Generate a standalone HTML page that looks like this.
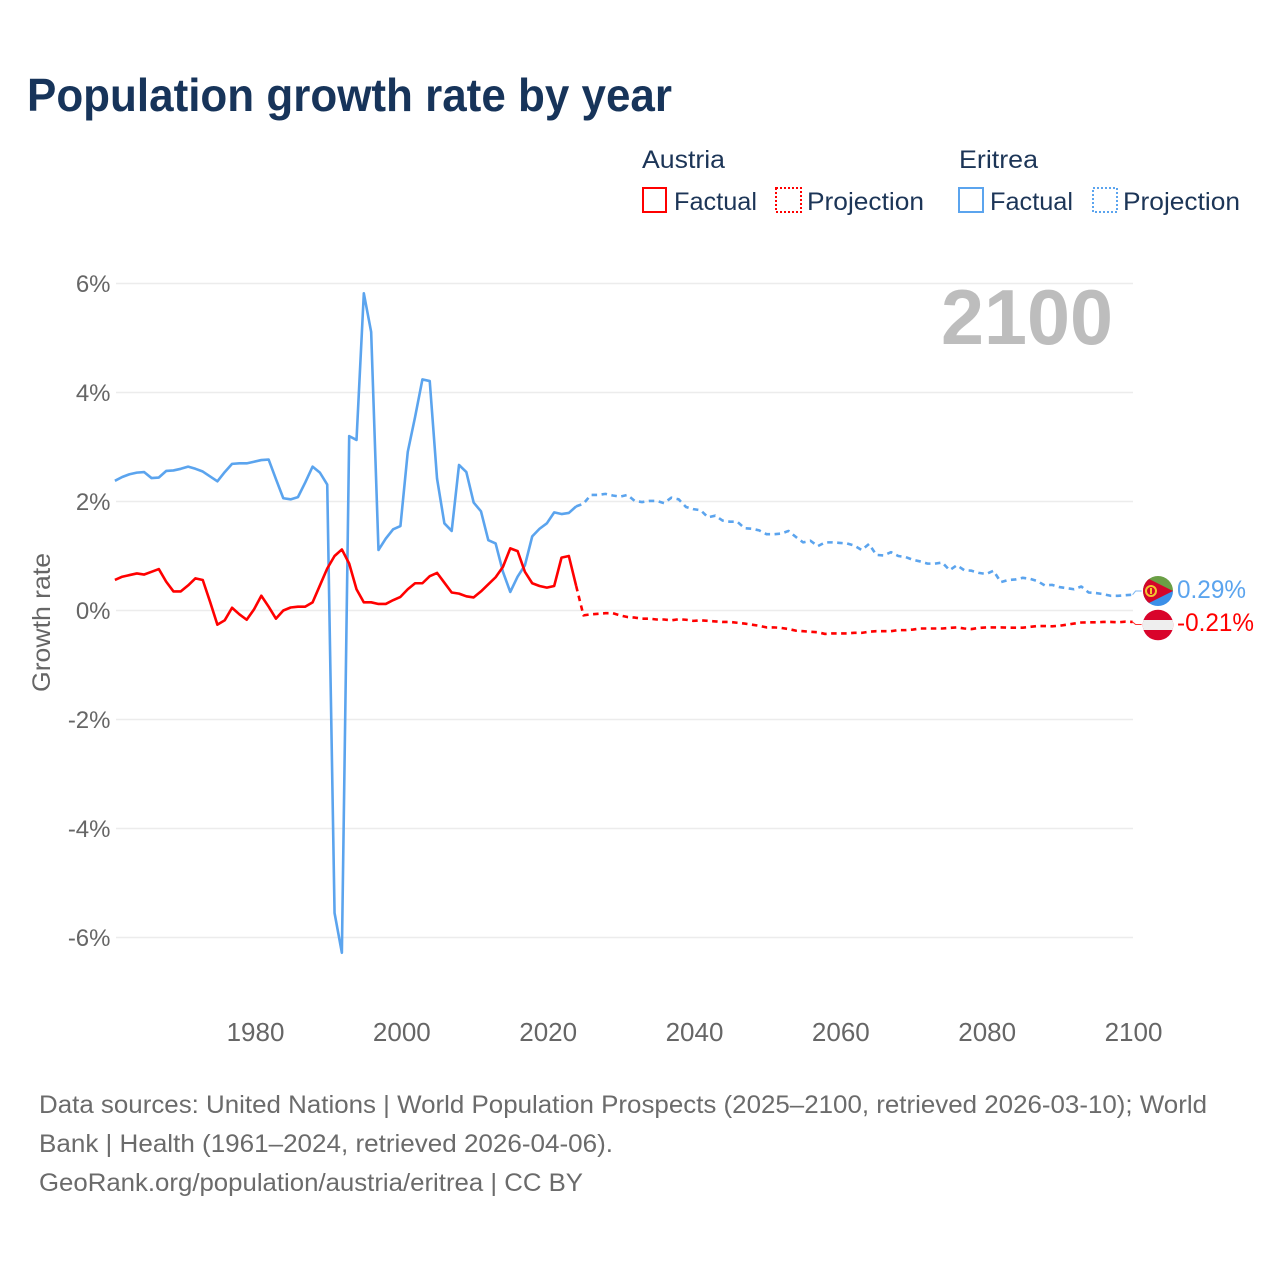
<!DOCTYPE html>
<html lang="en">
<head>
<meta charset="utf-8">
<title>Population growth rate by year</title>
<style>
html,body{margin:0;padding:0;background:#fff;}
svg{display:block;font-family:"Liberation Sans",sans-serif;}
</style>
</head>
<body>
<svg id="chart" xmlns="http://www.w3.org/2000/svg" width="1280" height="1280" viewBox="0 0 1280 1280">
  <rect width="1280" height="1280" fill="#fff"/>
  <text x="27" y="111" font-size="46" font-weight="700" fill="#17345a" textLength="645" lengthAdjust="spacingAndGlyphs">Population growth rate by year</text>

  <g font-size="25" fill="#1c3557">
    <text x="642" y="168" textLength="83" lengthAdjust="spacingAndGlyphs">Austria</text>
    <text x="959" y="168" textLength="79" lengthAdjust="spacingAndGlyphs">Eritrea</text>
    <rect x="643" y="188" width="23" height="24" fill="none" stroke="#ff0000" stroke-width="2"/>
    <text x="674" y="210" textLength="83" lengthAdjust="spacingAndGlyphs">Factual</text>
    <rect x="776" y="188" width="25" height="24" fill="none" stroke="#ff0000" stroke-width="2" stroke-dasharray="2 2"/>
    <text x="807" y="210" textLength="117" lengthAdjust="spacingAndGlyphs">Projection</text>
    <rect x="959" y="188" width="24" height="24" fill="none" stroke="#5ba4ee" stroke-width="2"/>
    <text x="990" y="210" textLength="83" lengthAdjust="spacingAndGlyphs">Factual</text>
    <rect x="1093" y="188" width="24" height="24" fill="none" stroke="#5ba4ee" stroke-width="2" stroke-dasharray="2 2"/>
    <text x="1123" y="210" textLength="117" lengthAdjust="spacingAndGlyphs">Projection</text>
  </g>

  <g id="grid"></g>
  <g id="yticks"></g>
  <g id="xticks"></g>
  <text transform="translate(50,692) rotate(-90)" font-size="25" fill="#666" textLength="139" lengthAdjust="spacingAndGlyphs">Growth rate</text>
  <text x="941" y="344" font-size="78" font-weight="700" fill="#bdbdbd" textLength="172" lengthAdjust="spacingAndGlyphs">2100</text>
  <g id="series"></g>

  <defs>
    <clipPath id="clip-er"><circle cx="1158" cy="591" r="15"/></clipPath>
    <clipPath id="clip-at"><circle cx="1158" cy="625" r="15.3"/></clipPath>
  </defs>
  <g clip-path="url(#clip-er)">
    <rect x="1143" y="576" width="30" height="15" fill="#6a9f45"/>
    <rect x="1143" y="591" width="30" height="15" fill="#3b8fe8"/>
    <polygon points="1143,576 1173,591 1143,606" fill="#d3062a"/>
    <circle cx="1151" cy="591" r="5" fill="none" stroke="#f4c430" stroke-width="2"/>
    <rect x="1150" y="588" width="2" height="6" fill="#f4c430"/>
  </g>
  <g clip-path="url(#clip-at)">
    <rect x="1142" y="609" width="32" height="32" fill="#d9042b"/>
    <rect x="1142" y="620" width="32" height="10" fill="#eeeeee"/>
  </g>
  <text id="label-er" x="1177" y="598" font-size="25" fill="#5ba4ee" textLength="69" lengthAdjust="spacingAndGlyphs">0.29%</text>
  <text id="label-at" x="1177" y="631" font-size="25" fill="#ff0000" textLength="77" lengthAdjust="spacingAndGlyphs">-0.21%</text>

  <g font-size="25" fill="#6b6b6b">
    <text x="39" y="1113" textLength="1168" lengthAdjust="spacingAndGlyphs">Data sources: United Nations | World Population Prospects (2025–2100, retrieved 2026-03-10); World</text>
    <text x="39" y="1152" textLength="574" lengthAdjust="spacingAndGlyphs">Bank | Health (1961–2024, retrieved 2026-04-06).</text>
    <text x="39" y="1191" textLength="544" lengthAdjust="spacingAndGlyphs">GeoRank.org/population/austria/eritrea | CC BY</text>
  </g>
</svg>
<script>
var firstYear = 1961;
var lastFactualYear = 2024;
var yTickValues = [6, 4, 2, 0, -2, -4, -6];
var xTickYears = [1980, 2000, 2020, 2040, 2060, 2080, 2100];

var austriaFactual = [0.56,0.62,0.65,0.68,0.66,0.71,0.76,0.53,0.35,0.35,0.46,0.59,0.56,0.16,-0.26,-0.18,0.05,-0.07,-0.17,0.02,0.27,0.07,-0.15,0,0.055,0.07,0.07,0.15,0.46,0.77,1.0,1.12,0.86,0.39,0.15,0.15,0.12,0.12,0.19,0.25,0.39,0.50,0.50,0.63,0.69,0.51,0.33,0.31,0.26,0.24,0.35,0.48,0.61,0.80,1.14,1.09,0.71,0.50,0.45,0.42,0.45,0.97,1.0,0.45];
var austriaProjection = [-0.09,-0.07,-0.06,-0.05,-0.05,-0.09,-0.12,-0.13,-0.15,-0.15,-0.165,-0.165,-0.18,-0.16,-0.17,-0.19,-0.18,-0.19,-0.20,-0.21,-0.21,-0.225,-0.24,-0.26,-0.28,-0.31,-0.31,-0.32,-0.34,-0.37,-0.38,-0.39,-0.40,-0.43,-0.42,-0.42,-0.42,-0.41,-0.41,-0.39,-0.38,-0.38,-0.38,-0.36,-0.36,-0.35,-0.33,-0.33,-0.33,-0.33,-0.32,-0.31,-0.33,-0.34,-0.32,-0.31,-0.31,-0.31,-0.315,-0.315,-0.315,-0.30,-0.285,-0.285,-0.29,-0.28,-0.26,-0.24,-0.22,-0.217,-0.217,-0.21,-0.21,-0.217,-0.205,-0.21];
var eritreaFactual = [2.38,2.45,2.50,2.53,2.54,2.43,2.44,2.56,2.57,2.60,2.64,2.60,2.55,2.46,2.37,2.54,2.69,2.70,2.70,2.73,2.76,2.77,2.41,2.06,2.04,2.08,2.35,2.64,2.53,2.31,-5.55,-6.28,3.20,3.13,5.82,5.11,1.11,1.32,1.49,1.55,2.91,3.55,4.24,4.21,2.42,1.60,1.46,2.67,2.54,1.98,1.82,1.29,1.23,0.71,0.34,0.62,0.83,1.36,1.50,1.60,1.80,1.77,1.79,1.91];
var eritreaProjection = [1.96,2.12,2.12,2.14,2.11,2.09,2.12,2.01,1.99,2.01,2.01,1.97,2.07,2.04,1.90,1.86,1.84,1.71,1.74,1.65,1.63,1.63,1.51,1.50,1.47,1.40,1.40,1.41,1.46,1.35,1.25,1.28,1.18,1.25,1.25,1.24,1.23,1.19,1.11,1.22,1.02,1.01,1.07,1.00,0.98,0.93,0.90,0.86,0.86,0.88,0.74,0.83,0.74,0.73,0.69,0.67,0.73,0.52,0.56,0.57,0.60,0.58,0.54,0.46,0.47,0.43,0.41,0.39,0.44,0.33,0.32,0.30,0.27,0.27,0.28,0.29];

var NS = 'http://www.w3.org/2000/svg';
var plotLeft = 116, plotRight = 1133, yZero = 610.5, pxPerPercent = 54.5;
var seriesLeft = 114.9, seriesRight = 1132.6;
var COLOR_AT = '#ff0000', COLOR_ER = '#5ba4ee';

function xScale(year) {
  return plotLeft + (year - firstYear) * (plotRight - plotLeft) / 139;
}
function xSeries(year) {
  return seriesLeft + (year - firstYear) * (seriesRight - seriesLeft) / 139;
}
function yScale(value) {
  return yZero - value * pxPerPercent;
}
function make(tag, attrs, parent) {
  var el = document.createElementNS(NS, tag);
  for (var k in attrs) el.setAttribute(k, attrs[k]);
  parent.appendChild(el);
  return el;
}
function pointsFor(values, startYear) {
  var out = [];
  for (var i = 0; i < values.length; i++) {
    out.push(xSeries(startYear + i).toFixed(2) + ',' + yScale(values[i]).toFixed(2));
  }
  return out;
}

var gridGroup = document.getElementById('grid');
var yGroup = document.getElementById('yticks');
yTickValues.forEach(function (v) {
  var line = make('line', {x1: plotLeft, x2: plotRight, y1: yScale(v), y2: yScale(v), stroke: '#ececec', 'stroke-width': 1.6}, gridGroup);
  
  
  var t = make('text', {x: 110.5, y: yScale(v) + 8.5, 'text-anchor': 'end', 'font-size': 24, fill: '#666'}, yGroup);
  
  
  t.textContent = v + '%';
});

var xGroup = document.getElementById('xticks');
xTickYears.forEach(function (yr) {
  var t = make('text', {x: xScale(yr) + 0.5, y: 1041, 'text-anchor': 'middle', 'font-size': 26, fill: '#666'}, xGroup);
  
  
  t.textContent = yr;
});

var seriesGroup = document.getElementById('series');
function drawSeries(factual, projection, color, key, flagY) {
  var fPts = pointsFor(factual, firstYear);
  var solid = make('polyline', {points: fPts.join(' '), fill: 'none', stroke: color, 'stroke-width': 2.6, 'stroke-linejoin': 'round'}, seriesGroup);
  
  

  var pPts = [fPts[fPts.length - 1]].concat(pointsFor(projection, lastFactualYear + 1));
  var dashed = make('polyline', {points: pPts.join(' '), fill: 'none', stroke: color, 'stroke-width': 2.6, 'stroke-dasharray': '5.5 4.5', 'stroke-linejoin': 'round'}, seriesGroup);
  
  

  var endX = xSeries(firstYear + factual.length + projection.length - 1);
  var endY = yScale(projection[projection.length - 1]);
  var leader = make('polyline', {points: endX + ',' + endY + ' ' + (endX + 3) + ',' + flagY + ' ' + (endX + 9) + ',' + flagY, fill: 'none', stroke: color, 'stroke-width': 1, opacity: 0.8}, seriesGroup);
  
  
}
drawSeries(eritreaFactual, eritreaProjection, COLOR_ER, 'eritrea', 591);
drawSeries(austriaFactual, austriaProjection, COLOR_AT, 'austria', 624.5);
</script>
</body>
</html>
